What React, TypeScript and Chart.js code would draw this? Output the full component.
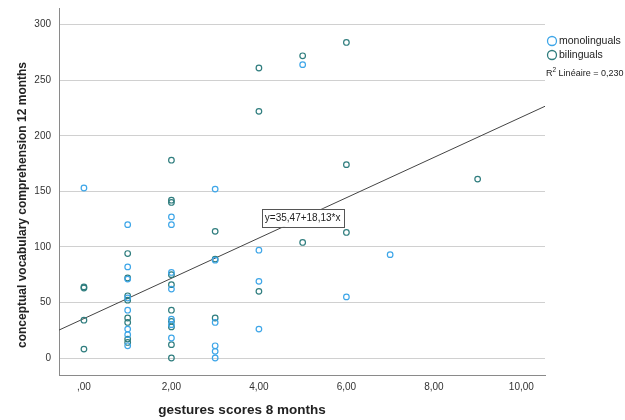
import React, { useEffect, useRef } from "react";
import { Chart, registerables } from "chart.js";

Chart.register(...registerables);

// monolinguals (gesture score, vocabulary comprehension)
const monoX = [0, 1, 1, 1, 1, 1, 1, 1, 1, 2, 2, 2, 2, 2, 2, 2, 3, 3, 3, 3, 3, 3, 4, 4, 4, 5, 6, 7];
const monoY = [153, 120, 82, 71, 54, 43, 26, 21, 11, 127, 120, 77, 62, 35, 30, 18, 152, 88, 32, 11, 6, 0, 97, 69, 26, 264, 55, 93];

// bilinguals
const bilX = [0, 0, 0, 0, 1, 1, 1, 1, 1, 1, 1, 1, 2, 2, 2, 2, 2, 2, 2, 2, 2, 2, 3, 3, 3, 4, 4, 4, 5, 5, 6, 6, 6, 9];
const bilY = [64, 63, 34, 8, 94, 72, 56, 52, 36, 32, 17, 14, 178, 142, 140, 75, 66, 43, 33, 28, 12, 0, 114, 89, 36, 261, 222, 60, 272, 104, 284, 174, 113, 161];

// linear fit (from the picture)
const fitIntercept = 35.47;
const fitSlope = 18.13;
const fitLabel = "y=35,47+18,13*x";
const r2Label = "0,230";

const xTicks = [0, 2, 4, 6, 8, 10];
const yTicks = [0, 50, 100, 150, 200, 250, 300];

const seriesNames = ["monolinguals", "bilinguals"];
const xTitle = "gestures scores 8 months";
const yTitle = "conceptual vocabulary comprehension 12 months";

const MONO_COLOR = "#3ea6e8";
const BIL_COLOR = "#2f7d7e";
const FONT = "'Liberation Sans', Arial, sans-serif";

const X_MIN = -0.57;
const X_MAX = 10.54;

export default function App() {
  const ref = useRef<HTMLCanvasElement | null>(null);

  useEffect(() => {
    if (!ref.current) return;
    const toPts = (xs: number[], ys: number[]) => xs.map((x, i) => ({ x, y: ys[i] }));

    const overlay = {
      id: "overlay",
      afterDatasetsDraw(chart: any) {
        const ctx = chart.ctx;
        const xs = chart.scales.x;
        const ys = chart.scales.y;
        // equation box
        const bx = xs.getPixelForValue(5);
        const by = ys.getPixelForValue(fitIntercept + fitSlope * 5);
        ctx.save();
        ctx.font = `10px ${FONT}`;
        const tw = ctx.measureText(fitLabel).width;
        const w = tw + 6;
        const h = 18;
        ctx.fillStyle = "#ffffff";
        ctx.fillRect(bx - w / 2, by - h / 2, w, h);
        ctx.strokeStyle = "#555555";
        ctx.lineWidth = 1;
        ctx.strokeRect(Math.round(bx - w / 2) + 0.5, Math.round(by - h / 2) + 0.5, Math.round(w), h);
        ctx.fillStyle = "#222222";
        ctx.textAlign = "center";
        ctx.textBaseline = "middle";
        ctx.fillText(fitLabel, bx, by + 0.5);
        ctx.restore();
      },
      afterDraw(chart: any) {
        const ctx = chart.ctx;
        ctx.save();
        // legend
        const colors = [MONO_COLOR, BIL_COLOR];
        seriesNames.forEach((name, i) => {
          const cy = 41 + i * 14;
          ctx.beginPath();
          ctx.arc(552, cy, 4.5, 0, Math.PI * 2);
          ctx.strokeStyle = colors[i];
          ctx.lineWidth = 1.3;
          ctx.stroke();
          ctx.fillStyle = "#222222";
          ctx.font = `10.5px ${FONT}`;
          ctx.textAlign = "left";
          ctx.textBaseline = "middle";
          ctx.fillText(name, 559, cy);
        });
        // R2 label
        ctx.font = `9px ${FONT}`;
        ctx.textBaseline = "middle";
        ctx.fillStyle = "#222222";
        ctx.fillText("R", 546, 74);
        const rw = ctx.measureText("R").width;
        ctx.font = `6.5px ${FONT}`;
        ctx.fillText("2", 546 + rw, 70.5);
        const sw = ctx.measureText("2").width;
        ctx.font = `9px ${FONT}`;
        ctx.fillText(" Linéaire = " + r2Label, 546 + rw + sw, 74);
        // axis titles
        ctx.fillStyle = "#222222";
        ctx.font = `bold 13.5px ${FONT}`;
        ctx.textAlign = "center";
        ctx.fillText(xTitle, 242, 410);
        ctx.translate(23, 205);
        ctx.rotate(-Math.PI / 2);
        ctx.font = `bold 12px ${FONT}`;
        ctx.fillText(yTitle, 0, 0);
        ctx.restore();
      },
    };

    const chart = new Chart(ref.current, {
      type: "scatter",
      data: {
        datasets: [
          {
            label: seriesNames[0],
            data: toPts(monoX, monoY),
            borderColor: MONO_COLOR,
            backgroundColor: "transparent",
            pointRadius: 2.8,
            borderWidth: 1.2,
          },
          {
            label: seriesNames[1],
            data: toPts(bilX, bilY),
            borderColor: BIL_COLOR,
            backgroundColor: "transparent",
            pointRadius: 2.8,
            borderWidth: 1.2,
          },
          {
            label: "fit",
            type: "line",
            data: [
              { x: X_MIN, y: fitIntercept + fitSlope * X_MIN },
              { x: X_MAX, y: fitIntercept + fitSlope * X_MAX },
            ],
            borderColor: "#444444",
            borderWidth: 1,
            pointRadius: 0,
            fill: false,
          } as any,
        ],
      },
      options: {
        responsive: false,
        animation: false,
        events: [],
        layout: { padding: { top: 8, right: 80, bottom: 0, left: 0 } },
        plugins: { legend: { display: false }, tooltip: { enabled: false } },
        scales: {
          x: {
            type: "linear",
            min: X_MIN,
            max: X_MAX,
            afterFit: (s: any) => {
              s.height = 45;
              s.paddingLeft = 0;
              s.paddingRight = 0;
            },
            afterBuildTicks: (s: any) => {
              s.ticks = xTicks.map((v) => ({ value: v }));
            },
            grid: { display: false, drawTicks: false },
            border: { display: true, color: "#8a8a8a", width: 1 },
            ticks: {
              padding: 6,
              color: "#333333",
              font: { family: FONT, size: 10 },
              callback: (v: any) => {
                const s = Number(v).toFixed(2).replace(".", ",");
                return s.startsWith("0,") ? s.slice(1) : s;
              },
            },
          },
          y: {
            type: "linear",
            min: -15.3,
            max: 315,
            afterFit: (s: any) => {
              s.width = 59;
              s.paddingTop = 0;
              s.paddingBottom = 0;
            },
            afterBuildTicks: (s: any) => {
              s.ticks = yTicks.map((v) => ({ value: v }));
            },
            grid: { color: "#d0d0d0", lineWidth: 1, drawTicks: false },
            border: { display: true, color: "#8a8a8a", width: 1 },
            ticks: {
              padding: 8,
              color: "#333333",
              font: { family: FONT, size: 10 },
              callback: (v: any) => String(v),
            },
          },
        },
      },
      plugins: [overlay],
    });
    return () => chart.destroy();
  }, []);

  return (
    <div style={{ position: "fixed", left: 0, top: 0, width: 625, height: 420, background: "#fff" }}>
      <canvas ref={ref} width={625} height={420} />
    </div>
  );
}
